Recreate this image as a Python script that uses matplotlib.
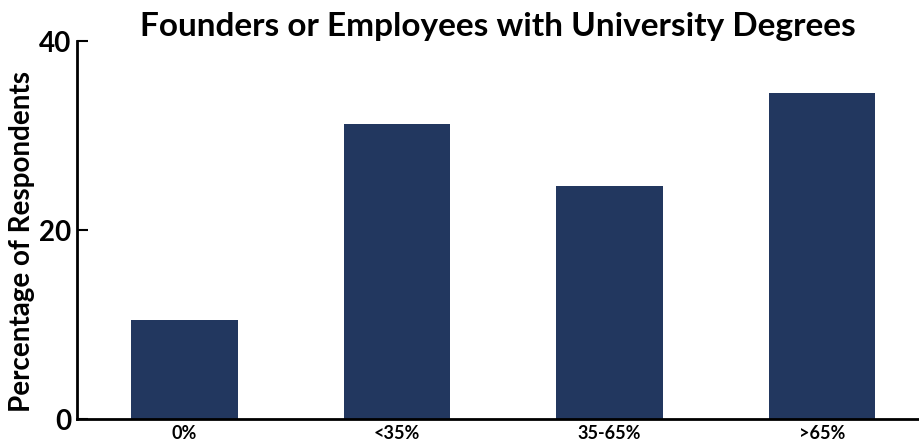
import matplotlib.pyplot as plt
import numpy as np

plt.rcParams['font.family'] = ['Lato', 'DejaVu Sans']

categories = ['0%', '<35%', '35-65%', '>65%']
percentages = [10.5, 31.2, 24.7, 34.5]
y_ticks = [0, 20, 40]

fig = plt.figure(figsize=(9.19, 4.48), dpi=100)
ax = fig.add_axes([77 / 919, 29 / 448, 842 / 919, 378 / 448])

x = np.arange(len(categories))
ax.bar(x, percentages, width=0.5, color='#22375f')

ax.set_xlim(-0.506, 3.456)
ax.set_ylim(0, 40)
ax.set_xticks(x)
ax.set_xticklabels(categories, fontsize=13, fontweight='bold')
ax.set_yticks(y_ticks)
ax.set_yticklabels([str(t) for t in y_ticks], fontsize=20, fontweight='bold')
ax.tick_params(axis='x', length=0, pad=4)
ax.tick_params(axis='y', direction='in', length=8, width=1.5, pad=4)

for side in ['top', 'right']:
    ax.spines[side].set_visible(False)
for side in ['left', 'bottom']:
    ax.spines[side].set_linewidth(2)

# y label sits a bit below the axes centre
ax.set_ylabel('Percentage of Respondents', fontsize=20, fontweight='bold', labelpad=5)
ax.yaxis.set_label_coords(-0.05, 0.47)
ax.set_title('Founders or Employees with University Degrees', fontsize=24,
             fontweight='bold', pad=3)

fig.savefig('out.png', dpi=100)
